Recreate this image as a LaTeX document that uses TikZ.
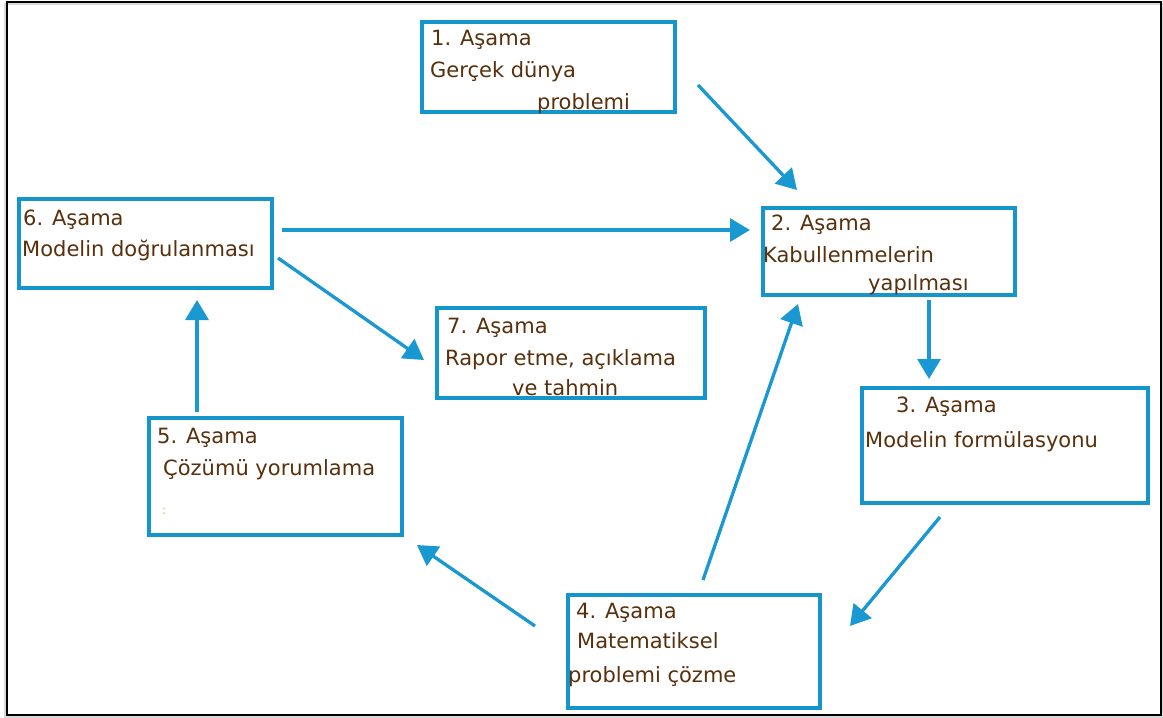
\documentclass[tikz,border=0pt]{standalone}
\usepackage{fontspec}
\setmainfont{DejaVu Sans}
\usetikzlibrary{arrows.meta}
\definecolor{boxblue}{RGB}{20,150,205}
\definecolor{arrowblue}{RGB}{25,152,210}
\definecolor{txtbrown}{RGB}{88,48,12}
\definecolor{dotorange}{RGB}{240,170,90}
\tikzset{
  stagebox/.style={draw=boxblue, line width=4pt, rectangle, inner sep=0pt, fill=white},
  lbl/.style={anchor=base west, inner sep=0pt, text=txtbrown, font=\fontsize{21}{25}\selectfont},
  conn/.style={draw=arrowblue, line width=3.3pt, -{Triangle[length=20pt,width=23pt]}}
}
\begin{document}
\begin{tikzpicture}[x=1pt,y=-1pt]
\useasboundingbox (0,0) rectangle (1163,718);
\fill[white] (0,0) rectangle (1163,718);
\draw[black!15, line width=1.5pt] (5,4) rectangle (1163,717);
\draw[black, line width=2.6pt] (7,2) rectangle (1161,715);

% boxes
\node[stagebox, minimum width=253pt, minimum height=90pt] (b1) at (548.5,67) {};
\node[stagebox, minimum width=252pt, minimum height=87pt] (b2) at (889,251.5) {};
\node[stagebox, minimum width=286pt, minimum height=115pt] (b3) at (1005,445.5) {};
\node[stagebox, minimum width=252pt, minimum height=113pt] (b4) at (694,651.5) {};
\node[stagebox, minimum width=253pt, minimum height=117pt] (b5) at (275.5,476.5) {};
\node[stagebox, minimum width=253pt, minimum height=89pt] (b6) at (145.5,243.5) {};
\node[stagebox, minimum width=268pt, minimum height=90pt] (b7) at (571,353) {};

% texts
\node[lbl] (t1a) at (431,45) {1. Aşama};
\node[lbl] (t1b) at (430,77) {Gerçek dünya};
\node[lbl] (t1c) at (537,109) {problemi};

\node[lbl] (t2a) at (771,230) {2. Aşama};
\node[lbl] (t2b) at (763,262) {Kabullenmelerin};
\node[lbl] (t2c) at (868,290) {yapılması};

\node[lbl] (t3a) at (896,412) {3. Aşama};
\node[lbl] (t3b) at (865,447) {Modelin formülasyonu};

\node[lbl] (t4a) at (576,618) {4. Aşama};
\node[lbl] (t4b) at (577,648) {Matematiksel};
\node[lbl] (t4c) at (568,682) {problemi çözme};

\node[lbl] (t5a) at (157,443) {5. Aşama};
\node[lbl] (t5b) at (163,475) {Çözümü yorumlama};
\node[anchor=base west, inner sep=0pt, text=dotorange, font=\fontsize{12}{14}\selectfont] (t5c) at (162,514) {:};

\node[lbl] (t6a) at (23,225) {6. Aşama};
\node[lbl] (t6b) at (22,256) {Modelin doğrulanması};

\node[lbl] (t7a) at (447,333) {7. Aşama};
\node[lbl] (t7b) at (445,365) {Rapor etme, açıklama};
\node[lbl] (t7c) at (512,395) {ve tahmin};

% connector ends
\coordinate (s12) at (698,85);   \coordinate (e12) at (797,190);
\coordinate (s62) at (282,230);  \coordinate (e62) at (750,230);
\coordinate (s67) at (278,258);  \coordinate (e67) at (424,360);
\coordinate (s23) at (929,300);  \coordinate (e23) at (929,379);
\coordinate (s34) at (940,517);  \coordinate (e34) at (850,626);
\coordinate (s45) at (535,626);  \coordinate (e45) at (417,545);
\coordinate (s42) at (703,580);  \coordinate (e42) at (798,304);
\coordinate (s56) at (197,412);  \coordinate (e56) at (197,300);

\draw[conn] (s12) -- (e12);
\draw[conn] (s62) -- (e62);
\draw[conn] (s67) -- (e67);
\draw[conn] (s23) -- (e23);
\draw[conn] (s34) -- (e34);
\draw[conn] (s45) -- (e45);
\draw[conn] (s42) -- (e42);
\draw[conn] (s56) -- (e56);
\end{tikzpicture}
\end{document}
